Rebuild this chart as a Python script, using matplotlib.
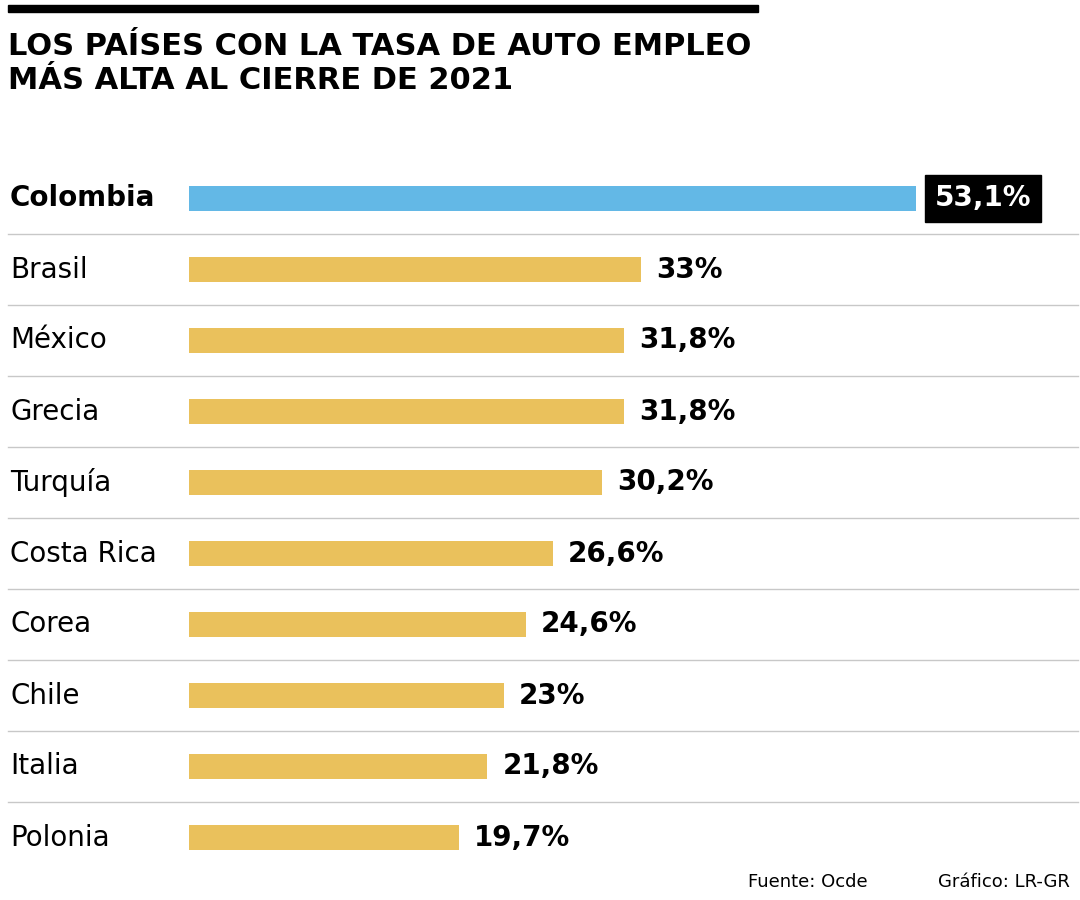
import matplotlib
matplotlib.use("Agg")
import matplotlib.pyplot as plt
from matplotlib.lines import Line2D
from matplotlib.patches import Rectangle

countries = ["Colombia", "Brasil", "México", "Grecia", "Turquía", "Costa Rica", "Corea", "Chile", "Italia", "Polonia"]
values = [53.1, 33, 31.8, 31.8, 30.2, 26.6, 24.6, 23, 21.8, 19.7]
labels = ["53,1%", "33%", "31,8%", "31,8%", "30,2%", "26,6%", "24,6%", "23%", "21,8%", "19,7%"]
title = "LOS PAÍSES CON LA TASA DE AUTO EMPLEO\nMÁS ALTA AL CIERRE DE 2021"

W, H = 1080, 900
fig = plt.figure(figsize=(W/100, H/100), dpi=100)
plt.rcParams['font.family'] = ['DejaVu Sans']

def fx(px): return px / W
def fy(py): return 1 - py / H

fig.add_artist(Rectangle((fx(8), fy(12)), fx(758) - fx(8), 7/H, color="black", transform=fig.transFigure))
fig.text(fx(8), fy(32), title, fontsize=22, fontweight="bold", va="top", ha="left", linespacing=1.2)

ax = fig.add_axes([fx(189), fy(873), fx(1078) - fx(189), (873 - 163) / H])
ax.set_xlim(0, (1078 - 189) / 13.69)
ax.set_ylim(len(countries) - 0.5, -0.5)
ax.axis("off")
colors = ["#63b8e6"] + ["#eac15c"] * (len(countries) - 1)
ax.barh(range(len(countries)), values, height=0.36, color=colors)

for i, (c, v, l) in enumerate(zip(countries, values, labels)):
    ax.text(-179 / 13.69, i, c, fontsize=20, ha="left", va="center",
            fontweight="bold" if i == 0 else "normal", clip_on=False)
    if i == 0:
        ax.text(v + 1.4, i, l, fontsize=20, fontweight="bold", color="white", ha="left", va="center",
                bbox=dict(boxstyle="square,pad=0.35", fc="black", ec="black"))
    else:
        ax.text(v + 1.1, i, l, fontsize=20, fontweight="bold", ha="left", va="center")
    if i < len(countries) - 1:
        y = 163 + 71 * (i + 1)
        fig.add_artist(Line2D([fx(8), fx(1078)], [fy(y), fy(y)], color="#c8c8c8", lw=1, transform=fig.transFigure))

fig.text(fx(748), fy(882), "Fuente: Ocde", fontsize=13, va="center", ha="left")
fig.text(fx(1070), fy(882), "Gráfico: LR-GR", fontsize=13, va="center", ha="right")

fig.savefig("out.png", dpi=100, facecolor="white")
